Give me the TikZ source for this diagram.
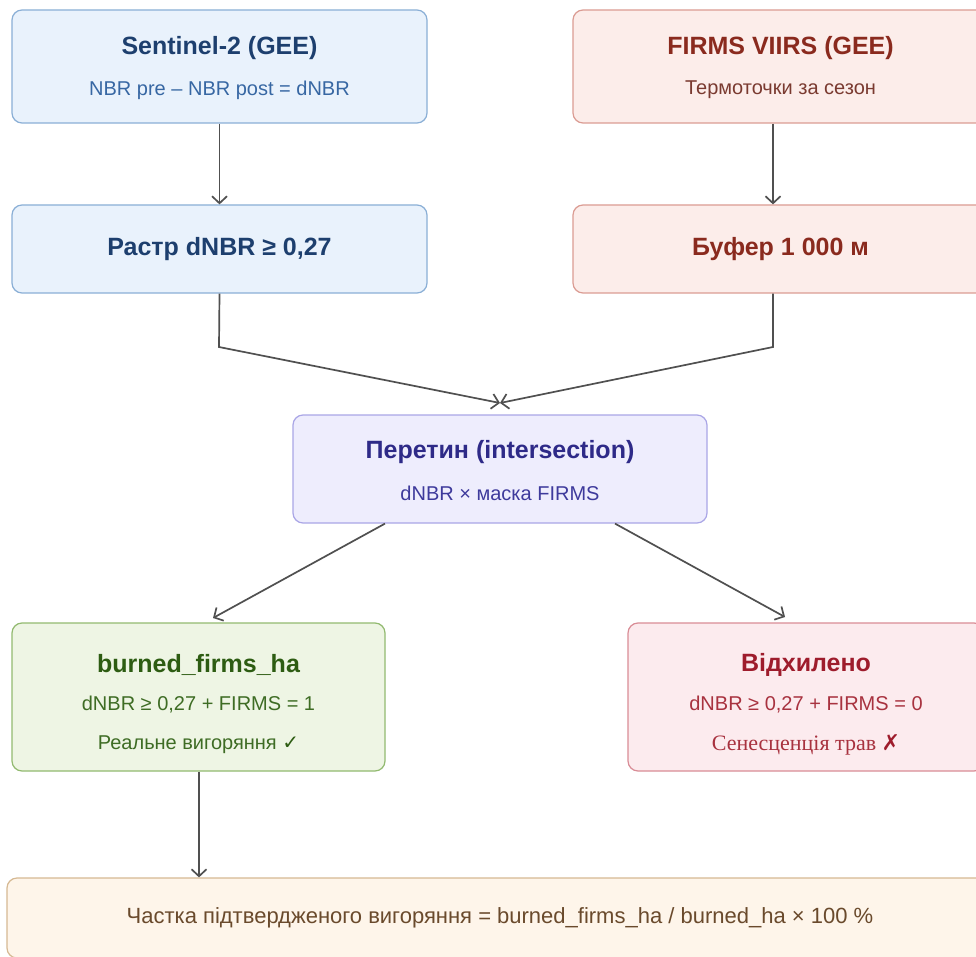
\documentclass[tikz,border=0pt]{standalone}
\usepackage{fontspec}
\setmainfont{Liberation Sans}
\newfontfamily\serifx{Liberation Serif}
\newfontfamily\symb{DejaVu Sans}
\usetikzlibrary{calc,arrows.meta}
\definecolor{bfill}{HTML}{E9F2FC}\definecolor{bdraw}{HTML}{8AAFD6}\definecolor{btit}{HTML}{1D3F6E}\definecolor{bsub}{HTML}{3767A3}
\definecolor{rfill}{HTML}{FCEDEA}\definecolor{rdraw}{HTML}{DB9C93}\definecolor{rtit}{HTML}{8A2A1E}\definecolor{rsub}{HTML}{7A3A30}
\definecolor{pfill}{HTML}{EEEDFD}\definecolor{pdraw}{HTML}{AAA6E6}\definecolor{ptit}{HTML}{2E2A88}\definecolor{psub}{HTML}{3E3A9C}
\definecolor{gfill}{HTML}{EEF5E4}\definecolor{gdraw}{HTML}{92BA70}\definecolor{gtit}{HTML}{2D5C12}\definecolor{gsub}{HTML}{3E6C24}
\definecolor{xfill}{HTML}{FCEBEE}\definecolor{xdraw}{HTML}{D98C96}\definecolor{xtit}{HTML}{9E1C2C}\definecolor{xsub}{HTML}{A8323F}
\definecolor{ofill}{HTML}{FEF5EA}\definecolor{odraw}{HTML}{D6B993}\definecolor{otxt}{HTML}{6A4A2C}
\definecolor{arr}{HTML}{505050}
\tikzset{
  box/.style={rectangle, rounded corners=10pt, line width=1.2pt, inner sep=0pt},
  tit/.style={font=\fontsize{25}{29}\selectfont\bfseries, inner sep=0pt},
  sub/.style={font=\fontsize{20}{24}\selectfont, inner sep=0pt},
  conn/.style={draw=arr, line width=1.7pt, -{Straight Barb[length=7pt,width=15pt,line width=1.7pt]}},
}
\begin{document}
\begin{tikzpicture}[x=1pt,y=-1pt]
\useasboundingbox (0,0) rectangle (976,957);
\fill[white] (0,0) rectangle (976,957);
% boxes
\node[box, fill=bfill, draw=bdraw, minimum width=415pt, minimum height=113pt] (A) at (219.5,66.5) {};
\node[tit, text=btit] (At) at (219.5,48) {Sentinel-2 (GEE)};
\node[sub, text=bsub] (As) at (219.5,90) {NBR pre – NBR post = dNBR};
\node[box, fill=rfill, draw=rdraw, minimum width=415pt, minimum height=113pt] (B) at (780.5,66.5) {};
\node[tit, text=rtit] (Bt) at (780.5,48) {FIRMS VIIRS (GEE)};
\node[sub, text=rsub] (Bs) at (780.5,90) {Термоточки за сезон};
\node[box, fill=bfill, draw=bdraw, minimum width=415pt, minimum height=88pt] (C) at (219.5,249) {};
\node[tit, text=btit] (Ct) at (219.5,249) {Растр dNBR ≥ 0,27};
\node[box, fill=rfill, draw=rdraw, minimum width=415pt, minimum height=88pt] (D) at (780.5,249) {};
\node[tit, text=rtit] (Dt) at (780.5,249) {Буфер 1 000 м};
\node[box, fill=pfill, draw=pdraw, minimum width=414pt, minimum height=108pt] (E) at (500,469) {};
\node[tit, text=ptit] (Et) at (500,452) {Перетин (intersection)};
\node[sub, text=psub] (Es) at (500,493) {dNBR × маска FIRMS};
\node[box, fill=gfill, draw=gdraw, minimum width=373pt, minimum height=148pt] (F) at (198.5,697) {};
\node[tit, text=gtit] (Ft) at (198.5,665) {burned\_firms\_ha};
\node[sub, text=gsub] (Fs) at (198.5,705) {dNBR ≥ 0,27 + FIRMS = 1};
\node[sub, text=gsub] (Fs2) at (198.5,745) {Реальне вигоряння {\symb\bfseries\color{gtit}✓}};
\node[box, fill=xfill, draw=xdraw, minimum width=356pt, minimum height=148pt] (G) at (806,697) {};
\node[tit, text=xtit] (Gt) at (806,665) {Відхилено};
\node[sub, text=xsub] (Gs) at (806,705) {dNBR ≥ 0,27 + FIRMS = 0};
\node[sub, text=xsub, font=\fontsize{22}{26}\serifx] (Gs2) at (806,745) {Сенесценція трав {\symb\bfseries\color{xtit}✗}};
\node[box, fill=ofill, draw=odraw, minimum width=986pt, minimum height=80pt] (H) at (500,918) {};
\node[sub, text=otxt, font=\fontsize{22}{26}\selectfont] (Ht) at (500,918) {Частка підтвердженого вигоряння = burned\_firms\_ha / burned\_ha × 100 \%};
% connectors
\coordinate (bx) at (773,0);
\coordinate (J) at (500,403);
\coordinate (cl) at (219,347);
\coordinate (cr) at (773,347);
\coordinate (el) at (385,0);
\coordinate (er) at (615,0);
\coordinate (fl) at (213,618);
\coordinate (gr) at (785,617);
\coordinate (fx) at (199,0);
\draw[conn] (A.south) -- (C.north);
\draw[conn] (B.south -| bx) -- (D.north -| bx);
\draw[conn] (C.south) -- (cl) -- (J);
\draw[conn] (D.south -| bx) -- (cr) -- (J);
\draw[conn] (E.south -| el) -- (fl);
\draw[conn] (E.south -| er) -- (gr);
\draw[conn] (F.south -| fx) -- (H.north -| fx);
\end{tikzpicture}
\end{document}
